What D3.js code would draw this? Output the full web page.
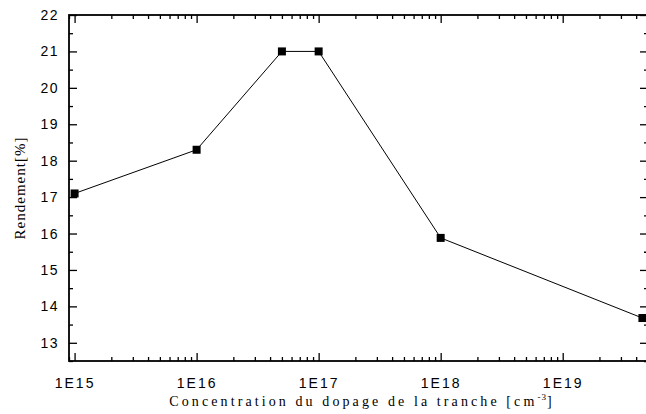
<!DOCTYPE html>
<html>
<head>
<meta charset="utf-8">
<script src="https://cdn.jsdelivr.net/npm/d3@7"></script>
<style>
  body { margin: 0; background: white; }
  text.tick-label { font-family: "Liberation Sans", Arial, sans-serif; font-size: 14px; fill: black; }
  text.title { font-family: "Liberation Serif", "Times New Roman", serif; font-size: 14px; fill: black; }
</style>
</head>
<body>
<div id="chart"></div>
<script>
// concentration du dopage (cm^-3) vs rendement (%)
const concentrations = [1e15, 1e16, 5e16, 1e17, 1e18, 4.5e19];
const rendement = [17.1, 18.3, 21.0, 21.0, 15.88, 13.68];
const yTicks = [13, 14, 15, 16, 17, 18, 19, 20, 21, 22];
const xTicks = [1e15, 1e16, 1e17, 1e18, 1e19];
const xTickLabels = ["1E15", "1E16", "1E17", "1E18", "1E19"];

const W = 646, H = 414;
const margin = { top: 15, right: -2, bottom: 53, left: 69 };
const width = W - margin.left - margin.right,
      height = H - margin.top - margin.bottom;

const svg = d3.select("#chart").append("svg")
    .attr("width", W)
    .attr("height", H);

const g = svg.append("g")
    .attr("transform", "translate(" + margin.left + "," + margin.top + ")");

const x = d3.scaleLog().domain([9e14, 5e19]).range([0, width]);
const y = d3.scaleLinear().domain([12.5, 22]).range([height, 0]);

// minor ticks: 2..9 x each decade, halves on y
const xMinor = [];
for (let e = 14; e <= 19; e++) {
  for (let m = 2; m <= 9; m++) {
    const v = m * Math.pow(10, e);
    if (v >= 9e14 && v <= 5e19) xMinor.push(v);
  }
}
const yMinor = yTicks.map(d => d - 0.5).filter(d => d >= 12.5);

const majorLen = 8, minorLen = 4;

// bottom axis (ticks inward)
const xAxisG = g.append("g")
    .attr("transform", "translate(0," + height + ")")
    .call(d3.axisBottom(x).tickValues(xTicks).tickSize(-majorLen).tickFormat((d, i) => xTickLabels[i]).tickPadding(majorLen + 9));
xAxisG.selectAll("text").style("letter-spacing", "2px");
g.append("g")
    .attr("transform", "translate(0," + height + ")")
    .call(d3.axisBottom(x).tickValues(xMinor).tickSize(-minorLen).tickFormat(""));

// top axis
g.append("g")
    .call(d3.axisTop(x).tickValues(xTicks).tickSize(-majorLen).tickFormat(""));
g.append("g")
    .call(d3.axisTop(x).tickValues(xMinor).tickSize(-minorLen).tickFormat(""));

// left axis
const yAxisG = g.append("g")
    .call(d3.axisLeft(y).tickValues(yTicks).tickSize(-majorLen).tickPadding(majorLen + 2));
yAxisG.selectAll("text").style("letter-spacing", "1.5px");
g.append("g")
    .call(d3.axisLeft(y).tickValues(yMinor).tickSize(-minorLen).tickFormat(""));

// right axis
g.append("g")
    .attr("transform", "translate(" + width + ",0)")
    .call(d3.axisRight(y).tickValues(yTicks).tickSize(-majorLen).tickFormat(""));
g.append("g")
    .attr("transform", "translate(" + width + ",0)")
    .call(d3.axisRight(y).tickValues(yMinor).tickSize(-minorLen).tickFormat(""));

g.selectAll(".domain").remove();
g.selectAll("g").attr("font-family", null).attr("font-size", null);
g.selectAll(".tick line").attr("stroke", "black").attr("stroke-width", 1.3);
g.selectAll(".tick text").attr("class", "tick-label");

// frame
g.append("rect")
    .attr("width", width)
    .attr("height", height)
    .attr("fill", "none")
    .attr("stroke", "black")
    .attr("stroke-width", 1.8);

// data line
const data = concentrations.map((c, i) => ({ c: c, v: rendement[i] }));
g.append("path")
    .datum(data)
    .attr("fill", "none")
    .attr("stroke", "black")
    .attr("stroke-width", 1)
    .attr("d", d3.line().x(d => x(d.c)).y(d => y(d.v)));

const ms = 8;
g.selectAll(".pt")
    .data(data)
    .enter().append("rect")
    .attr("class", "pt")
    .attr("x", d => x(d.c) - ms / 2)
    .attr("y", d => y(d.v) - ms / 2)
    .attr("width", ms)
    .attr("height", ms)
    .attr("fill", "black");

// axis titles
const xt = svg.append("text")
    .attr("class", "title")
    .attr("x", 362)
    .attr("y", 406)
    .attr("text-anchor", "middle")
    .style("letter-spacing", "3.1px");
xt.append("tspan").text("Concentration du dopage de la tranche [cm");
xt.append("tspan").attr("dy", -6).style("font-size", "9px").style("letter-spacing", "1px").text("-3");
xt.append("tspan").attr("dy", 6).text("]");

svg.append("text")
    .attr("class", "title")
    .attr("transform", "translate(25,188) rotate(-90)")
    .attr("text-anchor", "middle")
    .style("font-size", "15px")
    .style("letter-spacing", "1px")
    .text("Rendement[%]");
</script>
</body>
</html>
